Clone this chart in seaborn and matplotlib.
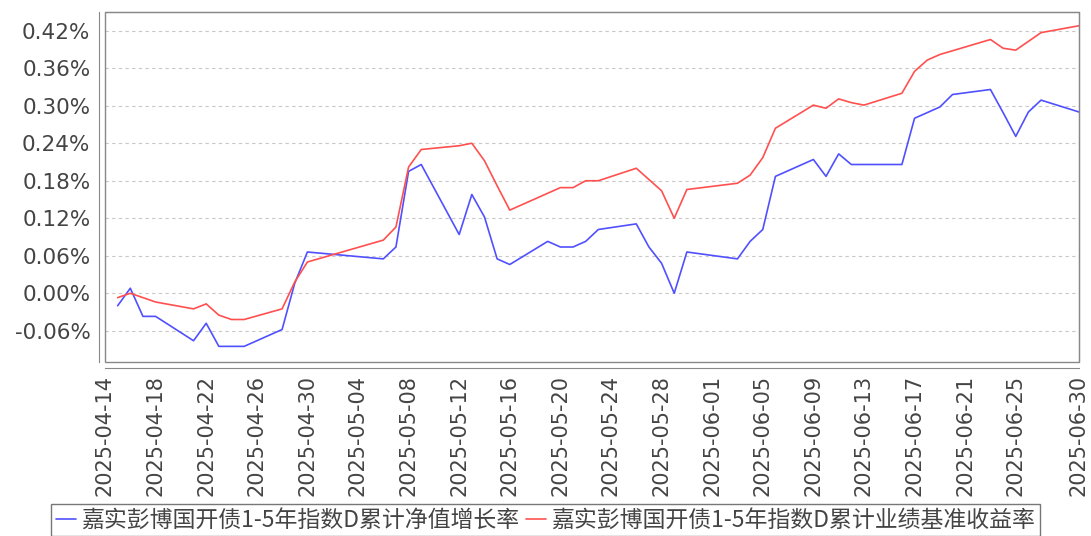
import numpy as np
import pandas as pd
import matplotlib
matplotlib.use("Agg")
import matplotlib.pyplot as plt
import matplotlib.dates as mdates
from matplotlib.patches import Rectangle
import seaborn as sns

# 交易日
DATES = [
    "2025-04-15", "2025-04-16", "2025-04-17", "2025-04-18", "2025-04-21",
    "2025-04-22", "2025-04-23", "2025-04-24", "2025-04-25", "2025-04-28",
    "2025-04-29", "2025-04-30", "2025-05-06", "2025-05-07", "2025-05-08",
    "2025-05-09", "2025-05-12", "2025-05-13", "2025-05-14", "2025-05-15",
    "2025-05-16", "2025-05-19", "2025-05-20", "2025-05-21", "2025-05-22",
    "2025-05-23", "2025-05-26", "2025-05-27", "2025-05-28", "2025-05-29",
    "2025-05-30", "2025-06-03", "2025-06-04", "2025-06-05", "2025-06-06",
    "2025-06-09", "2025-06-10", "2025-06-11", "2025-06-12", "2025-06-13",
    "2025-06-16", "2025-06-17", "2025-06-18", "2025-06-19", "2025-06-20",
    "2025-06-23", "2025-06-24", "2025-06-25", "2025-06-26", "2025-06-27",
    "2025-06-30",
]

# 累计净值增长率 (%)
NAV_GROWTH = [
    -0.020, 0.008, -0.037, -0.037, -0.076,
    -0.048, -0.085, -0.085, -0.085, -0.058,
    0.016, 0.066, 0.055, 0.074, 0.195,
    0.206, 0.094, 0.158, 0.122, 0.055,
    0.046, 0.083, 0.074, 0.074, 0.083,
    0.102, 0.111, 0.074, 0.048, 0.000,
    0.066, 0.055, 0.083, 0.102, 0.187,
    0.214, 0.187, 0.223, 0.206, 0.206,
    0.206, 0.280, 0.289, 0.298, 0.318,
    0.326, 0.289, 0.251, 0.290, 0.309,
    0.290,
]

# 累计业绩基准收益率 (%)
BENCHMARK = [
    -0.007, 0.000, -0.007, -0.014, -0.025,
    -0.017, -0.035, -0.042, -0.042, -0.025,
    0.018, 0.050, 0.085, 0.106, 0.202,
    0.230, 0.236, 0.240, 0.212, 0.172,
    0.133, 0.160, 0.169, 0.169, 0.180,
    0.180, 0.200, 0.182, 0.164, 0.120,
    0.166, 0.176, 0.189, 0.217, 0.264,
    0.301, 0.296, 0.311, 0.305, 0.301,
    0.320, 0.355, 0.373, 0.382, 0.388,
    0.406, 0.392, 0.389, 0.403, 0.417,
    0.428,
]

SERIES_NAV = "嘉实彭博国开债1-5年指数D累计净值增长率"
SERIES_BM = "嘉实彭博国开债1-5年指数D累计业绩基准收益率"

YTICKS = [-0.06, 0.00, 0.06, 0.12, 0.18, 0.24, 0.30, 0.36, 0.42]
X_START, X_END = "2025-04-14", "2025-06-30"

BLUE = "#5050ff"
RED = "#ff5050"
GRAY = "#888888"
TEXT = "#444444"

sns.set_style("white")
plt.rcParams["font.family"] = ["DejaVu Sans", "Noto Sans CJK SC"]

dates = pd.to_datetime(DATES)
df = pd.concat([
    pd.DataFrame({"date": dates, "value": NAV_GROWTH, "series": SERIES_NAV}),
    pd.DataFrame({"date": dates, "value": BENCHMARK, "series": SERIES_BM}),
])

fig = plt.figure(figsize=(10.91, 5.36), dpi=100)
W, H = 1091, 536
ax = fig.add_axes([105 / W, 1 - 362 / H, (1079 - 105) / W, (362 - 12) / H])

sns.lineplot(data=df, x="date", y="value", hue="series",
             palette={SERIES_NAV: BLUE, SERIES_BM: RED},
             linewidth=1.2, ax=ax, legend=False)

ax.set_xlim(pd.Timestamp(X_START), pd.Timestamp(X_END))
ax.set_ylim(-0.110, 0.450)

xt = list(pd.date_range(X_START, "2025-06-25", freq="4D")) + [pd.Timestamp(X_END)]
ax.set_xticks(xt)
ax.xaxis.set_major_formatter(mdates.DateFormatter("%Y-%m-%d"))
ax.set_yticks(YTICKS)
ax.set_yticklabels([f"{v:.2f}%" for v in YTICKS])

ax.tick_params(axis="x", rotation=90, labelsize=15, colors=GRAY,
               labelcolor=TEXT, length=3, width=1, pad=2)
ax.tick_params(axis="y", labelsize=15.5, colors=GRAY,
               labelcolor=TEXT, length=3, width=1, pad=3)
for lab in ax.get_xticklabels():
    lab.set_verticalalignment("top")

ax.grid(axis="y", color="#c8c8c8", linestyle=(0, (3, 3)), linewidth=0.8)
ax.set_xlabel("")
ax.set_ylabel("")

# axis lines sit a few pixels away from the plot box
for side in ["left", "bottom"]:
    ax.spines[side].set_position(("outward", 4.5))
    ax.spines[side].set_color(GRAY)
for side in ["top", "right"]:
    ax.spines[side].set_color(GRAY)
ax.add_patch(Rectangle((0, 0), 1, 1, transform=ax.transAxes, fill=False,
                       edgecolor=GRAY, linewidth=1, clip_on=False, zorder=5))

handles = [
    plt.Line2D([], [], color=BLUE, linewidth=1.2),
    plt.Line2D([], [], color=RED, linewidth=1.2),
]
leg = fig.legend(handles, [SERIES_NAV, SERIES_BM], loc="upper center",
                 bbox_to_anchor=(0.5, 1 - 504 / H), borderaxespad=0,
                 ncol=2, frameon=True, fancybox=False,
                 handlelength=0.87, handletextpad=0.26,
                 columnspacing=0.26, borderpad=0.2,
                 prop={"family": ["Noto Sans CJK SC"], "size": 16.5})
leg.get_frame().set_edgecolor("#555555")
leg.get_frame().set_linewidth(1)
for t in leg.get_texts():
    t.set_color(TEXT)

fig.savefig("out.png", dpi=100)
